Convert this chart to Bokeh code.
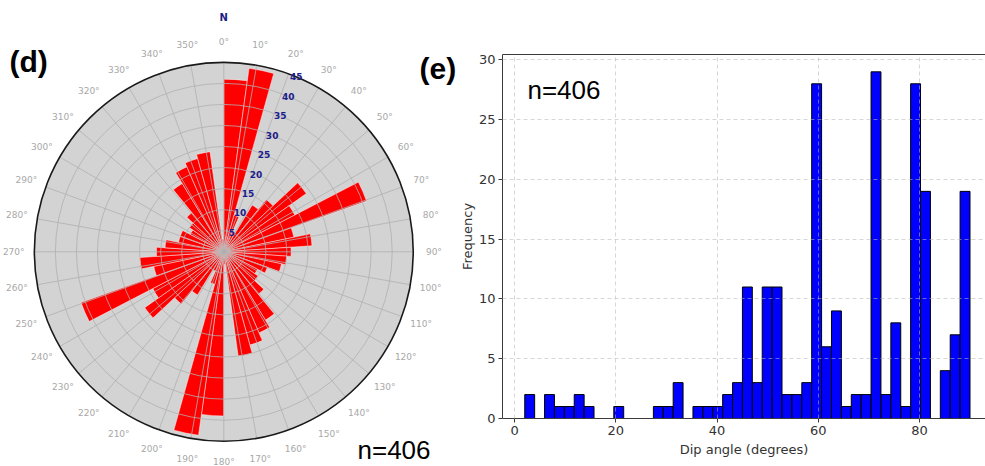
import numpy as np
from bokeh.plotting import figure
from bokeh.layouts import row
from bokeh.models import Range1d, LinearAxis, FixedTicker, ColumnDataSource
from bokeh.core.properties import value
from bokeh.embed import file_html
from bokeh.resources import INLINE

# ---------------- data ----------------
# (d) rose diagram: 46 sectors, bearings clockwise from north
rose_sector_count = 46
rose_counts = [41, 44, 9, 5, 13, 16, 24, 19, 36, 17, 21, 16, 15, 14, 11, 9, 10, 13, 19, 21, 23, 25, 3,
               39, 44, 8, 5, 12, 16, 23, 19, 36, 17, 20, 16, 14, 11, 11, 9, 10, 12, 19, 22, 23, 24, 3]
rose_rmax = 45
rose_rticks = [5, 10, 15, 20, 25, 30, 35, 40, 45]
rose_theta_ticks = list(range(0, 360, 10))
rose_theta_labels = [f"{t}°" for t in rose_theta_ticks]
rose_n_label = "n=406"

# (e) dip-angle histogram: 45 bins between 2 and 90 degrees
hist_min, hist_max, hist_nbins = 2.0, 90.0, 45
hist_counts = [2, 0, 2, 1, 1, 2, 1, 0, 0, 1, 0, 0, 0, 1, 1, 3, 0, 1, 1, 1, 2, 3, 11, 3, 11,
               11, 2, 2, 3, 28, 6, 9, 1, 2, 2, 29, 2, 8, 1, 28, 19, 0, 4, 7, 19]
hist_xticks = [0, 20, 40, 60, 80]
hist_yticks = [0, 5, 10, 15, 20, 25, 30]
hist_n_label = "n=406"

H = 466
# ---------------- (d) rose ----------------
W1 = 456
CX, CY, S = 223.3, 251.3, 4.21   # centre in px, px per count
p1 = figure(width=W1, height=H,
            x_range=Range1d(-CX / S, (W1 - CX) / S),
            y_range=Range1d(-(H - CY) / S, CY / S),
            x_axis_type=None, y_axis_type=None, toolbar_location=None,
            output_backend="svg", min_border=0, outline_line_color=None)
p1.frame_align = False

def px1(x, y):
    return (x - CX) / S, (CY - y) / S

# background disc
p1.circle(x=[0], y=[0], radius=rose_rmax, fill_color="#d3d3d3", line_color=None)

sw = 360.0 / rose_sector_count
b0 = np.arange(rose_sector_count) * sw
b1 = b0 + sw
src = ColumnDataSource(dict(x=np.zeros(rose_sector_count), y=np.zeros(rose_sector_count),
                            r=rose_counts,
                            sa=np.deg2rad(90 - b1), ea=np.deg2rad(90 - b0)))
p1.wedge(x="x", y="y", radius="r", start_angle="sa", end_angle="ea", source=src,
         fill_color="#ff0000", line_color="white", line_width=0.6, line_alpha=0.8)

# grid on top
p1.circle(x=[0] * (len(rose_rticks) - 1), y=[0] * (len(rose_rticks) - 1),
          radius=rose_rticks[:-1], fill_color=None, line_color="#b0b0b0", line_width=0.8)
p1.ray(x=[0] * len(rose_theta_ticks), y=[0] * len(rose_theta_ticks), length=rose_rmax,
       angle=np.deg2rad(90 - np.array(rose_theta_ticks)),
       line_color="#b0b0b0", line_width=0.8)
# outer spine
p1.circle(x=[0], y=[0], radius=rose_rmax, fill_color=None, line_color="#1a1a1a", line_width=1.6)

# angular labels
tl_r = 49.9
tt = np.deg2rad(np.array(rose_theta_ticks))
p1.text(x=tl_r * np.sin(tt), y=tl_r * np.cos(tt), text=rose_theta_labels,
        text_align="center", text_baseline="middle", text_font=value("DejaVu Sans"),
        text_font_size="9px", text_color="#a8a8a8")
# radial labels at 22.5 deg
rl = np.array(rose_rticks, dtype=float)
ra = np.deg2rad(22.5)
p1.text(x=rl * np.sin(ra), y=rl * np.cos(ra), text=[str(v) for v in rose_rticks],
        text_align="center", text_baseline="middle", text_font=value("DejaVu Sans"),
        text_font_size="9px", text_font_style="bold", text_color="#1c1c8a")
# N
nx, ny = px1(223.3, 17)
p1.text(x=[nx], y=[ny], text=["N"], text_align="center", text_baseline="middle",
        text_font=value("DejaVu Sans"), text_font_size="10px", text_font_style="bold",
        text_color="#1c1c8a")
# panel letters and n
dx, dy = px1(9, 61)
p1.text(x=[dx], y=[dy], text=["(d)"], text_align="left", text_baseline="middle",
        text_font=value("Liberation Sans"), text_font_size="30px", text_font_style="bold",
        text_color="black")
ex, ey = px1(419, 68)
p1.text(x=[ex], y=[ey], text=["(e)"], text_align="left", text_baseline="middle",
        text_font=value("Liberation Sans"), text_font_size="30px", text_font_style="bold",
        text_color="black")
nx1, ny1 = px1(357, 449)
p1.text(x=[nx1], y=[ny1], text=[rose_n_label], text_align="left", text_baseline="middle",
        text_font=value("Liberation Sans"), text_font_size="26px", text_color="black")

# ---------------- (e) histogram ----------------
W2 = 985 - W1
BL, BT, BB = 45, 54, 48
frame_w = W2 - BL
frame_h = H - BT - BB
x0 = hist_min - 0.05 * (hist_max - hist_min)
xppu = 5.07
x1 = x0 + frame_w / xppu
ytop = max(hist_counts) * 1.05
p2 = figure(width=W2, height=H, x_range=Range1d(x0, x1), y_range=Range1d(0, ytop),
            toolbar_location=None, output_backend="svg",
            min_border_left=BL, min_border_right=0, min_border_top=BT, min_border_bottom=BB,
            outline_line_color=None)
p2.frame_align = False

def px2(x, y):
    return x0 + (x - W1 - BL) / xppu, (H - BB - y) * ytop / frame_h

edges = np.linspace(hist_min, hist_max, hist_nbins + 1)
p2.quad(left=edges[:-1], right=edges[1:], bottom=0, top=hist_counts,
        fill_color="#0000ff", line_color="black", line_width=1)

for ax in (p2.xaxis[0], p2.yaxis[0]):
    ax.axis_line_color = "#3a3a3a"
    ax.major_tick_line_color = "#3a3a3a"
    ax.major_tick_out = 4
    ax.major_tick_in = 0
    ax.minor_tick_line_color = None
    ax.major_label_text_font = "DejaVu Sans"
    ax.major_label_text_font_size = "13px"
    ax.major_label_text_color = "#333333"
    ax.major_label_standoff = 3
    ax.axis_label_text_font = "DejaVu Sans"
    ax.axis_label_text_font_size = "13px"
    ax.axis_label_text_font_style = "normal"
    ax.axis_label_text_color = "#333333"
    ax.axis_label_standoff = 1
p2.xaxis[0].ticker = FixedTicker(ticks=hist_xticks)
p2.yaxis[0].ticker = FixedTicker(ticks=hist_yticks)
p2.xaxis[0].axis_label = "Dip angle (degrees)"
p2.yaxis[0].axis_label = "Frequency"
p2.xaxis[0].axis_label_standoff = 4

top_axis = LinearAxis(axis_line_color="#3a3a3a", major_tick_line_color=None,
                      minor_tick_line_color=None, major_label_text_font_size="0px",
                      ticker=FixedTicker(ticks=[]))
p2.add_layout(top_axis, "above")

p2.xgrid.ticker = FixedTicker(ticks=hist_xticks)
p2.ygrid.ticker = FixedTicker(ticks=hist_yticks[1:])
p2.grid.grid_line_color = "#b8b8b8"
p2.grid.grid_line_dash = "4 3"
p2.grid.grid_line_alpha = 0.7
p2.grid.grid_line_width = 0.8
p2.grid.level = "overlay"

hx, hy = px2(526, 89)
p2.text(x=[hx], y=[hy], text=[hist_n_label], text_align="left", text_baseline="middle",
        text_font=value("Liberation Sans"), text_font_size="26px", text_color="black")

layout = row(p1, p2, spacing=0)
open("out.html", "w").write(file_html(layout, INLINE))
